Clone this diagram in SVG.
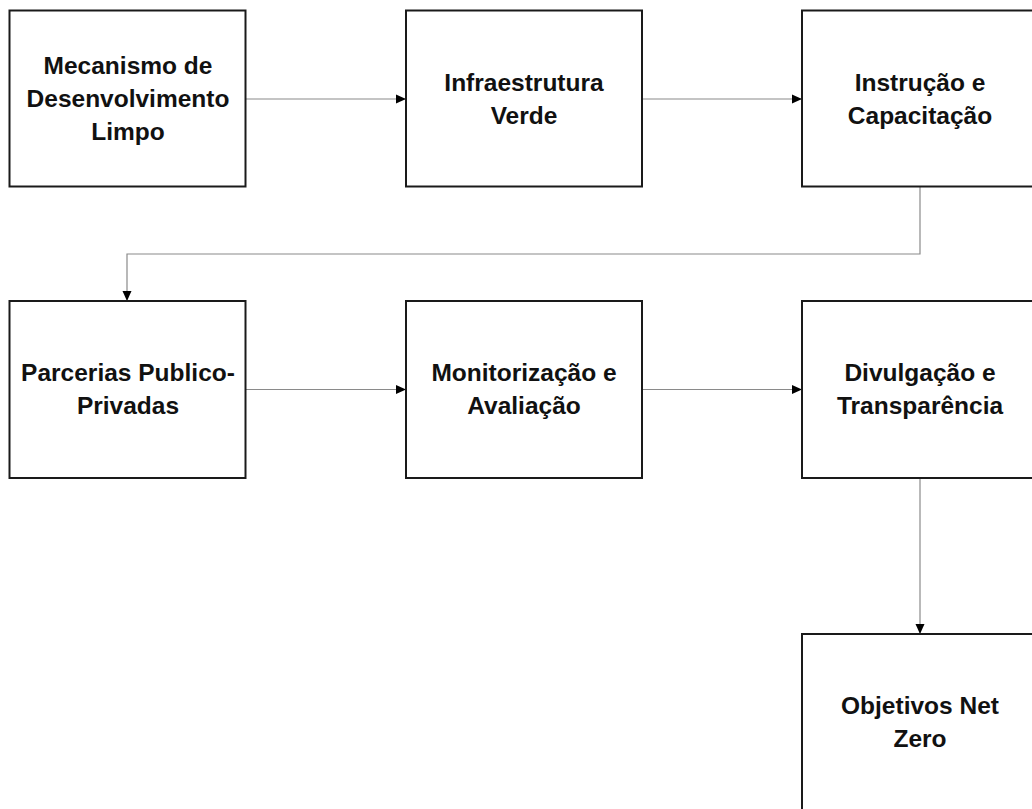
<svg xmlns="http://www.w3.org/2000/svg" width="1032" height="809" viewBox="0 0 1032 809">
  <defs>
    <marker id="arrow" viewBox="0 0 10 10" refX="10" refY="5" markerWidth="10" markerHeight="10" markerUnits="userSpaceOnUse" orient="auto">
      <path d="M0,0.5 L10,5 L0,9.5 Z" fill="#000"/>
    </marker>
  </defs>
  <style>
    .box { fill: #fff; stroke: #1a1a1a; stroke-width: 2; }
    .label { font-family: "Liberation Sans", Arial, sans-serif; font-weight: bold; font-size: 24.5px; fill: #111; text-anchor: middle; }
    .link { fill: none; stroke: #8a8a8a; stroke-width: 1.2; marker-end: url(#arrow); }
  </style>
  <rect width="1032" height="809" fill="#fff"/>

  <g id="connectors">
    <path class="link" d="M245,99 H406"/>
    <path class="link" d="M642,99 H802"/>
    <path class="link" d="M920,187 V254 H127 V301"/>
    <path class="link" d="M245,389.5 H406"/>
    <path class="link" d="M642,389.5 H802"/>
    <path class="link" d="M920,478 V634"/>
  </g>

  <g id="node-mecanismo">
    <rect class="box" x="9.5" y="10.5" width="236" height="176"/>
    <text class="label" x="128" y="74">Mecanismo de</text>
    <text class="label" x="128" y="107">Desenvolvimento</text>
    <text class="label" x="128" y="140">Limpo</text>
  </g>

  <g id="node-infraestrutura">
    <rect class="box" x="406" y="10.5" width="236" height="176"/>
    <text class="label" x="524" y="91">Infraestrutura</text>
    <text class="label" x="524" y="124">Verde</text>
  </g>

  <g id="node-instrucao">
    <rect class="box" x="802" y="10.5" width="236" height="176"/>
    <text class="label" x="920" y="91">Instrução e</text>
    <text class="label" x="920" y="124">Capacitação</text>
  </g>

  <g id="node-parcerias">
    <rect class="box" x="9.5" y="301" width="236" height="177"/>
    <text class="label" x="128" y="381">Parcerias Publico-</text>
    <text class="label" x="128" y="414">Privadas</text>
  </g>

  <g id="node-monitorizacao">
    <rect class="box" x="406" y="301" width="236" height="177"/>
    <text class="label" x="524" y="381">Monitorização e</text>
    <text class="label" x="524" y="414">Avaliação</text>
  </g>

  <g id="node-divulgacao">
    <rect class="box" x="802" y="301" width="236" height="177"/>
    <text class="label" x="920" y="381">Divulgação e</text>
    <text class="label" x="920" y="414">Transparência</text>
  </g>

  <g id="node-netzero">
    <rect class="box" x="802" y="634" width="236" height="178"/>
    <text class="label" x="920" y="714">Objetivos Net</text>
    <text class="label" x="920" y="747">Zero</text>
  </g>
</svg>
